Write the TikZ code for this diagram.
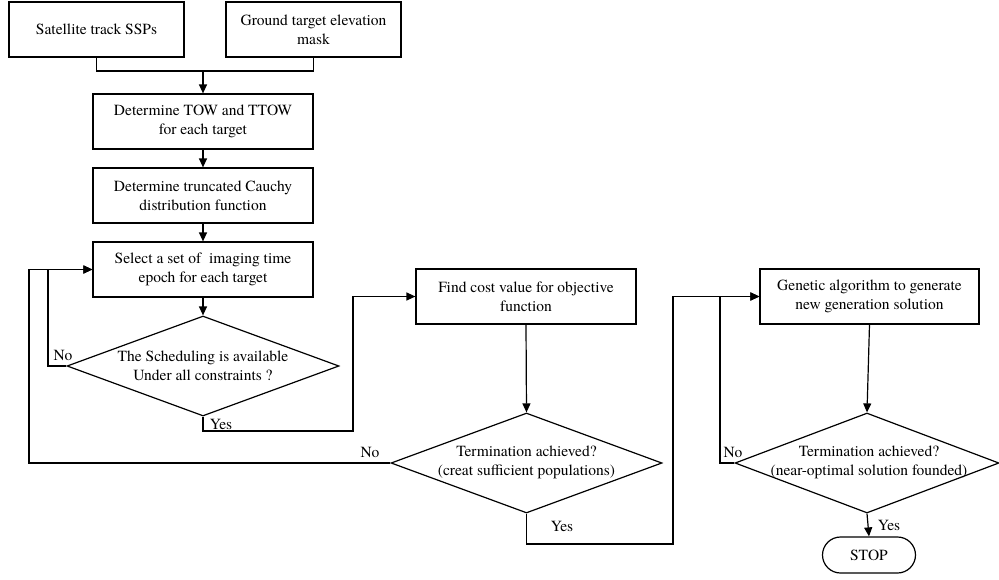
\documentclass[tikz,border=0pt]{standalone}
\usepackage{fontspec}
\setmainfont{TeX Gyre Termes}
\usetikzlibrary{arrows.meta,shapes.geometric}
\tikzset{
  every node/.style={font=\rmfamily\fontsize{15.5}{18.7}\selectfont},
  procbox/.style={draw,line width=1.2pt,align=center,inner sep=0pt,minimum height=55pt},
  decbox/.style={draw,diamond,line width=1.2pt,inner sep=0pt,minimum height=100pt},
  dectext/.style={align=center,inner sep=0pt},
  stopbox/.style={draw,line width=1.2pt,rounded corners=18pt,inner sep=0pt,minimum width=93pt,minimum height=36pt},
  lbl/.style={inner sep=0pt},
  conn/.style={line width=1.2pt},
  arr/.style={conn,-{Triangle[length=9pt,width=8pt]}}
}
\begin{document}
\begin{tikzpicture}[x=1pt,y=-1pt]
\useasboundingbox (0,0) rectangle (999,579);
% boxes
\node[procbox,minimum width=175pt] (sat) at (96.5,29.5) {Satellite track SSPs};
\node[procbox,minimum width=175pt] (gnd) at (313.5,29.5) {Ground target elevation\\mask};
\node[procbox,minimum width=220pt] (tow) at (203,121.5) {Determine TOW and TTOW\\for each target};
\node[procbox,minimum width=220pt] (cau) at (203,195.5) {Determine truncated Cauchy\\distribution function};
\node[procbox,minimum width=220pt] (sel) at (203,269.5) {Select a set of\ \ imaging time\\epoch for each target};
\node[decbox,minimum width=272pt] (d1) at (203,366) {};
\node[dectext] (d1t) at (203,366) {The Scheduling is available\\Under all constraints ?};
\node[procbox,minimum width=220pt] (cost) at (526,296.5) {Find cost value for objective\\function};
\node[decbox,minimum width=271pt] (d2) at (526.5,463) {};
\node[dectext] (d2t) at (526.5,462.5) {Termination achieved?\\(creat sufficient populations)};
\node[procbox,minimum width=219pt] (ga) at (869.5,296.5) {Genetic algorithm to generate\\new generation solution};
\node[decbox,minimum width=264pt] (d3) at (867,463) {};
\node[dectext] (d3t) at (869,462.5) {Termination achieved?\\(near-optimal solution founded)};
\node[stopbox] (stop) at (869,555) {STOP};
% helper coordinates
\coordinate (j) at (203,71);
\coordinate (l1) at (48,366);
\coordinate (y1) at (353,431);
\coordinate (l2) at (29,463);
\coordinate (y2) at (673,544);
\coordinate (l3) at (720,463);
% connectors
\draw[conn] (sat.south) |- (j) -| (gnd.south);
\draw[arr] (j) -- (tow.north);
\draw[arr] (tow.south) -- (cau.north);
\draw[arr] (cau.south) -- (sel.north);
\draw[arr] (sel.south) -- (d1.north);
\draw[arr] (d1.west) -- (l1) |- (sel.west);
\draw[arr] (d1.south) |- (y1) |- (cost.west);
\draw[arr] (cost.south) -- (d2.north);
\draw[arr] (d2.west) -- (l2) |- (sel.west);
\draw[arr] (d2.south) |- (y2) |- (ga.west);
\draw[arr] (ga.south) -- (d3.north);
\draw[arr] (d3.west) -- (l3) |- (ga.west);
\draw[arr] (d3.south) -- (stop.north);
% labels
\node[lbl] (n1) at (63,355) {No};
\node[lbl] (ys1) at (221,424) {Yes};
\node[lbl] (n2) at (370,452) {No};
\node[lbl] (ys2) at (562,526) {Yes};
\node[lbl] (n3) at (733,452) {No};
\node[lbl] (ys3) at (889,525) {Yes};
\end{tikzpicture}
\end{document}
